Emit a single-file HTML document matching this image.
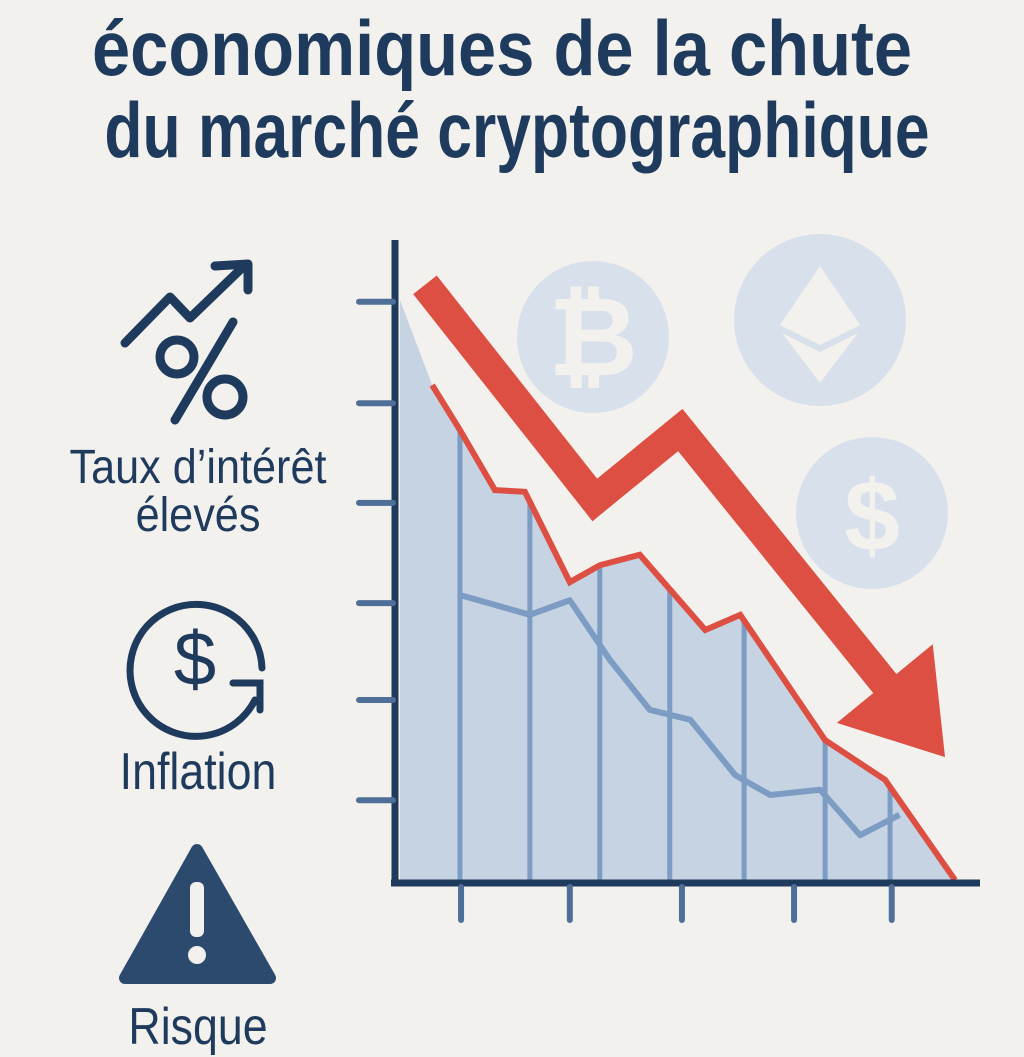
<!DOCTYPE html>
<html><head><meta charset="utf-8"><style>
html,body{margin:0;padding:0;background:#f3f1ed;}
body{width:1024px;height:1024px;position:relative;overflow:hidden;font-family:"Liberation Sans",sans-serif;color:#1e3a5c;}
.t{position:absolute;font-weight:bold;font-size:78px;line-height:78px;white-space:nowrap;transform-origin:0 0;}
.lbl{position:absolute;white-space:nowrap;text-align:center;}
</style></head><body>
<div class="t" style="top:9px;left:502px;transform:translateX(-50%) scaleX(0.88);transform-origin:50% 0;">économiques de la chute</div>
<div class="t" style="top:91px;left:517px;transform:translateX(-50%) scaleX(0.80);transform-origin:50% 0;">du marché cryptographique</div>
<div class="lbl" style="top:444px;left:198px;font-size:48px;line-height:48px;transform:translateX(-50%) scaleX(0.9);transform-origin:50% 0;">Taux d’intérêt<br>élevés</div>
<div class="lbl" style="top:742px;left:198px;font-size:52px;transform:translateX(-50%) scaleX(0.86);transform-origin:50% 0;">Inflation</div>
<div class="lbl" style="top:997px;left:198px;font-size:52px;transform:translateX(-50%) scaleX(0.86);transform-origin:50% 0;">Risque</div>
<svg width="1024" height="1024" style="position:absolute;left:0;top:0">
<g fill="none" stroke="#1e3a5c" stroke-width="9" stroke-linecap="round" stroke-linejoin="round">
<polyline points="125,343 170,297 190,318 245,265"/><polyline points="215,266 248,264 248,290"/>
<line x1="233" y1="322" x2="175" y2="420"/><circle cx="177" cy="357" r="17"/><circle cx="225" cy="397" r="18"/>
</g>
<g fill="none" stroke="#1e3a5c" stroke-width="7" stroke-linecap="round">
<path d="M255,700 A66,66 0 1 1 262,668"/><polyline points="233,683 260,683 260,710"/>
<text x="195" y="685" font-size="76" fill="#1e3a5c" stroke="none" text-anchor="middle" font-family="Liberation Sans">$</text>
</g>
<g>
<path d="M197,850 L270,978 L125,978 Z" fill="#2b4a6e" stroke="#2b4a6e" stroke-width="12" stroke-linejoin="round"/>
<rect x="190" y="882" width="14" height="55" rx="6" fill="#f3f1ed"/><circle cx="197" cy="955" r="9" fill="#f3f1ed"/>
</g>
<g>
<circle cx="593" cy="337" r="76" fill="#d8e0eb"/>
<text x="593" y="375" font-size="110" font-weight="bold" fill="#f3f1ed" text-anchor="middle">₿</text>
<circle cx="820" cy="320" r="86" fill="#d8e0eb"/>
<path d="M820,266 L860,325 L820,345 L780,325 Z M782,333 L820,352 L858,333 L820,383 Z" fill="#f3f1ed"/>
<circle cx="872" cy="513" r="76" fill="#d8e0eb"/>
<text x="872" y="550" font-size="100" font-weight="bold" fill="#f3f1ed" text-anchor="middle">$</text>
</g>
<g id="plot"></g>
</svg>
<script>
const areaX=[0,5.8,10.8,17.1,22.5,30.6,36,43.2,55,61.3,76.6,87.4,100];
const areaV=[100,85.4,77.7,67.4,67.1,51.6,54.5,56.3,43.4,46,24.5,17.7,0.5];
const lineX=[10.8,23.4,30.6,37.8,45,52.3,60.4,66.7,75.7,82.9,90];
const lineV=[49.4,46,48.5,38.3,29.7,28,18.5,15.1,16,8.2,11.7];
const gridX=[10.8,23.4,36,48.6,62,76.6,88.3];
const arrowX=[4.5,35.1,50.5,88.3,98.2];
const arrowV=[102.6,65.7,77.7,33.1,21.6];
const yTicks=[99.7,82.3,65.2,48,31.4,14.2];
const xTicks=[11,30.6,50.8,71,88.6];
const sx=v=>400+v*5.55, sy=v=>883-v*5.83;
const ns='http://www.w3.org/2000/svg', g=document.getElementById('plot');
function mk(t,a){const e=document.createElementNS(ns,t);for(const k in a)e.setAttribute(k,a[k]);g.appendChild(e);return e;}
function interp(x){for(let i=0;i<areaX.length-1;i++){if(x>=areaX[i]&&x<=areaX[i+1]){const f=(x-areaX[i])/(areaX[i+1]-areaX[i]);return areaV[i]+f*(areaV[i+1]-areaV[i]);}}return 0;}
let pts=areaX.map((x,i)=>sx(x)+','+sy(areaV[i])).join(' ');
let e=mk('polygon',{points:sx(0)+','+sy(0)+' '+pts,fill:'#c6d3e3'});


gridX.forEach(x=>{e=mk('line',{x1:sx(x),x2:sx(x),y1:sy(interp(x)),y2:883,stroke:'#7d9cc4','stroke-width':5});

});
e=mk('polyline',{points:lineX.map((x,i)=>sx(x)+','+sy(lineV[i])).join(' '),fill:'none',stroke:'#7d9cc4','stroke-width':6,'stroke-linejoin':'round'});


e=mk('polyline',{points:areaX.slice(1).map((x,i)=>sx(x)+','+sy(areaV[i+1])).join(' '),fill:'none',stroke:'#dc4f42','stroke-width':6});


e=mk('line',{x1:395,y1:240,x2:395,y2:885,stroke:'#1e3a5c','stroke-width':7});


e=mk('line',{x1:391,y1:883,x2:980,y2:883,stroke:'#1e3a5c','stroke-width':7});


yTicks.forEach(v=>{e=mk('line',{x1:359,x2:393,y1:sy(v),y2:sy(v),stroke:'#4f6f99','stroke-width':6,'stroke-linecap':'round'});

});
xTicks.forEach(v=>{e=mk('line',{x1:sx(v),x2:sx(v),y1:887,y2:920,stroke:'#4f6f99','stroke-width':6,'stroke-linecap':'round'});

});
const n=arrowX.length, ax=arrowX.map(sx), ay=arrowV.map(sy);
const dx=ax[n-1]-ax[n-2], dy=ay[n-1]-ay[n-2], L=Math.hypot(dx,dy), ux=dx/L, uy=dy/L;
const bx=ax[n-1]-ux*95, by=ay[n-1]-uy*95;
let sp=[];for(let i=0;i<n-1;i++)sp.push(ax[i]+','+ay[i]);sp.push(bx+','+by);
e=mk('polyline',{points:sp.join(' '),fill:'none',stroke:'#dc4f42','stroke-width':30,'stroke-linejoin':'miter'});


const px=-uy,py=ux;
e=mk('polygon',{points:[ax[n-1]+','+ay[n-1],(bx+px*62)+','+(by+py*62),(bx-px*62)+','+(by-py*62)].join(' '),fill:'#dc4f42'});


</script>
</body></html>
